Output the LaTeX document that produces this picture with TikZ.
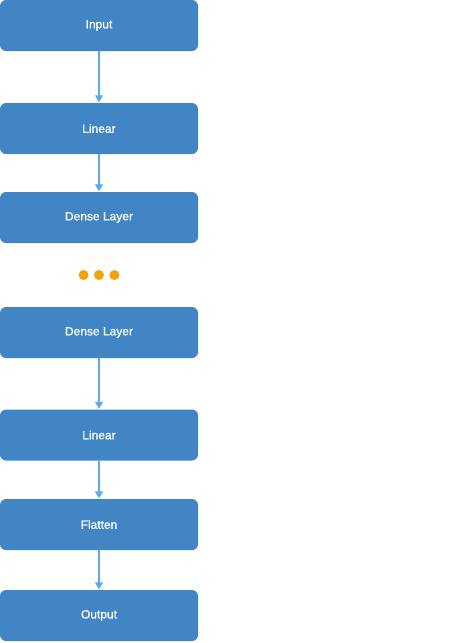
\documentclass[tikz,border=0pt]{standalone}
\usepackage{fontspec}
\setmainfont{Liberation Sans}
\newfontfamily\boxfont[FakeBold=0.8]{Liberation Sans}
\usetikzlibrary{positioning,arrows.meta}
\definecolor{boxblue}{RGB}{65,133,197}
\definecolor{linkblue}{RGB}{93,169,240}
\definecolor{dotorange}{RGB}{240,163,10}
\begin{document}
\begin{tikzpicture}[x=1pt,y=1pt,>={Triangle[length=7pt,width=8pt]}]
	\tikzset{layer/.style={draw=none,fill=boxblue,rounded corners=6pt,minimum width=198pt,minimum height=51pt,
			text=white,font=\boxfont\fontsize{12}{14}\selectfont,inner sep=0pt},
		link/.style={->,draw=linkblue,line width=1.2pt,shorten >=0.5pt},
		dot/.style={circle,fill=dotorange,inner sep=0pt,minimum size=10pt}
	}
	\useasboundingbox (0,0) rectangle (461,-643);
	\node[layer] (inp) at (99,-25.5) {Input};
	\node[layer] (lin1) at (99,-128.5) {Linear};
	\node[layer] (den1) at (99,-217.5) {Dense Layer};
	\node[dot] (d2) at (99,-275) {};
	\node[dot,left=5pt of d2] (d1) {};
	\node[dot,right=5pt of d2] (d3) {};
	\node[layer] (den2) at (99,-332.5) {Dense Layer};
	\node[layer] (lin2) at (99,-435) {Linear};
	\node[layer] (flat) at (99,-524.5) {Flatten};
	\node[layer] (out) at (99,-615.5) {Output};
	% connectors
	\foreach \a/\b in {inp/lin1,lin1/den1,den2/lin2,lin2/flat,flat/out}{
		\draw[link] (\a) -- (\b);}
\end{tikzpicture}
\end{document}
